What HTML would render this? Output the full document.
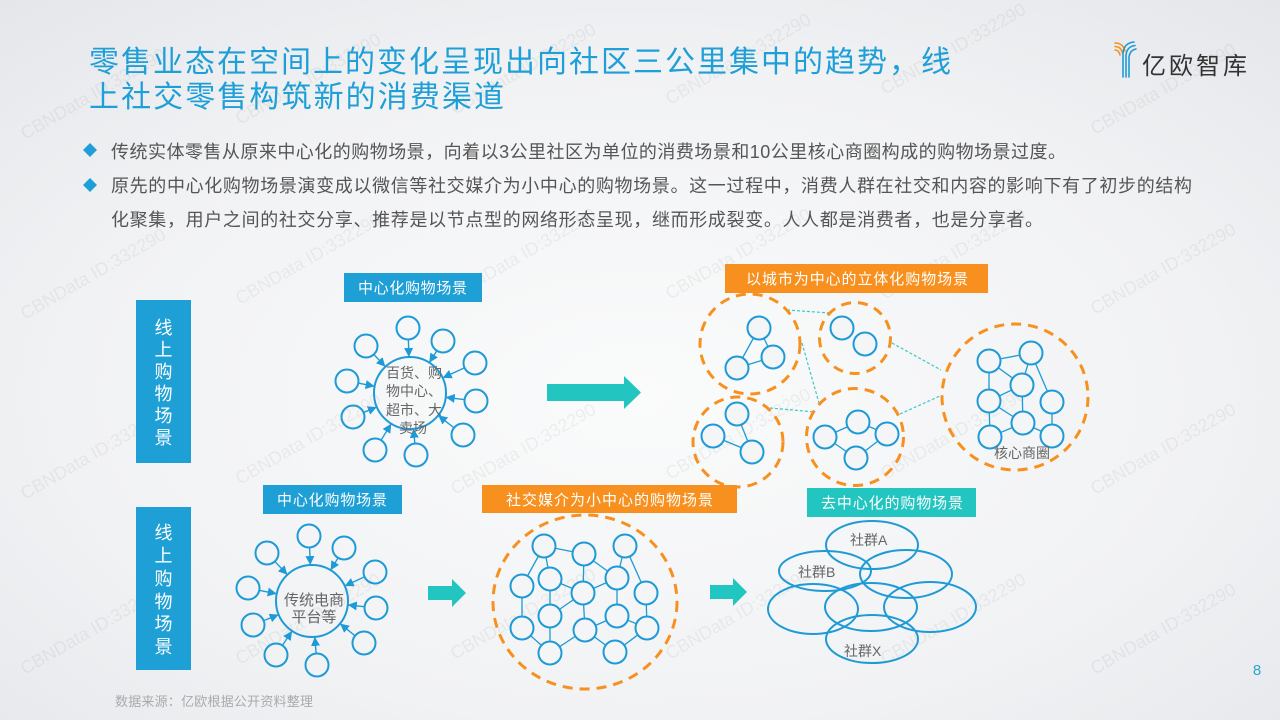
<!DOCTYPE html>
<html><head><meta charset="utf-8"><style>
html,body{margin:0;padding:0;}
body{width:1280px;height:720px;overflow:hidden;background:#f2f3f5;}
svg{display:block;}
text{font-family:"Liberation Sans","Noto Sans CJK SC",sans-serif;}
</style></head><body>
<svg width="1280" height="720" viewBox="0 0 1280 720" xmlns="http://www.w3.org/2000/svg">
<defs>
<radialGradient id="bg" cx="0.5" cy="0.55" r="0.75">
<stop offset="0" stop-color="#fafbfb"/>
<stop offset="0.6" stop-color="#f1f2f4"/>
<stop offset="1" stop-color="#e4e6ea"/>
</radialGradient>
<marker id="ah" viewBox="0 0 10 10" refX="10" refY="5" markerWidth="9" markerHeight="9" markerUnits="userSpaceOnUse" orient="auto">
<path d="M0,0 L10,5 L0,10 z" fill="#1e9ad6"/>
</marker>
</defs>
<rect width="1280" height="720" fill="url(#bg)"/>

<!-- watermarks -->
<g fill="#000" fill-opacity="0.05" font-size="18">
<text transform="translate(25,140) rotate(-30)">CBNData ID:332290</text>
<text transform="translate(240,125) rotate(-30)">CBNData ID:332290</text>
<text transform="translate(455,115) rotate(-30)">CBNData ID:332290</text>
<text transform="translate(670,105) rotate(-30)">CBNData ID:332290</text>
<text transform="translate(885,95) rotate(-30)">CBNData ID:332290</text>
<text transform="translate(1095,135) rotate(-30)">CBNData ID:332290</text>
<text transform="translate(25,320) rotate(-30)">CBNData ID:332290</text>
<text transform="translate(240,305) rotate(-30)">CBNData ID:332290</text>
<text transform="translate(455,300) rotate(-30)">CBNData ID:332290</text>
<text transform="translate(670,300) rotate(-30)">CBNData ID:332290</text>
<text transform="translate(885,300) rotate(-30)">CBNData ID:332290</text>
<text transform="translate(1095,315) rotate(-30)">CBNData ID:332290</text>
<text transform="translate(25,500) rotate(-30)">CBNData ID:332290</text>
<text transform="translate(240,485) rotate(-30)">CBNData ID:332290</text>
<text transform="translate(455,495) rotate(-30)">CBNData ID:332290</text>
<text transform="translate(670,480) rotate(-30)">CBNData ID:332290</text>
<text transform="translate(885,480) rotate(-30)">CBNData ID:332290</text>
<text transform="translate(1095,495) rotate(-30)">CBNData ID:332290</text>
<text transform="translate(25,675) rotate(-30)">CBNData ID:332290</text>
<text transform="translate(240,665) rotate(-30)">CBNData ID:332290</text>
<text transform="translate(455,660) rotate(-30)">CBNData ID:332290</text>
<text transform="translate(670,660) rotate(-30)">CBNData ID:332290</text>
<text transform="translate(885,665) rotate(-30)">CBNData ID:332290</text>
<text transform="translate(1095,675) rotate(-30)">CBNData ID:332290</text>
</g>

<!-- title -->
<g fill="#1e9fd8" font-size="30">
<text x="89" y="72" textLength="862" lengthAdjust="spacing">零售业态在空间上的变化呈现出向社区三公里集中的趋势，线</text>
<text x="89" y="107" textLength="415" lengthAdjust="spacing">上社交零售构筑新的消费渠道</text>
</g>

<!-- logo -->
<g fill="none" stroke-width="1.6" stroke-linecap="round">
<path d="M1115,43 Q1123,43 1125,51" stroke="#f7901e"/>
<path d="M1115,46.5 Q1121,46.5 1122.5,53" stroke="#f7901e"/>
<path d="M1115,50 Q1119,50 1120,55" stroke="#f7901e"/>
<path d="M1134,42 Q1124,43 1123,53 L1123,77" stroke="#1e9ad6"/>
<path d="M1135,45.5 Q1127,46.5 1126,55 L1126,77" stroke="#1e9ad6"/>
<path d="M1136,49 Q1130,50 1129,57 L1129,77" stroke="#1e9ad6"/>
</g>
<text x="1142" y="74" font-size="24" fill="#333" textLength="105" lengthAdjust="spacing">亿欧智库</text>

<!-- bullets -->
<path d="M90,143 L97,150 L90,157 L83,150 z" fill="#1e9fd8"/>
<path d="M90,178 L97,185 L90,192 L83,185 z" fill="#1e9fd8"/>
<g fill="#555" font-size="18">
<text x="111" y="158" textLength="955" lengthAdjust="spacing">传统实体零售从原来中心化的购物场景，向着以3公里社区为单位的消费场景和10公里核心商圈构成的购物场景过度。</text>
<text x="111" y="192" textLength="1081" lengthAdjust="spacing">原先的中心化购物场景演变成以微信等社交媒介为小中心的购物场景。这一过程中，消费人群在社交和内容的影响下有了初步的结构</text>
<text x="111" y="226" textLength="932" lengthAdjust="spacing">化聚集，用户之间的社交分享、推荐是以节点型的网络形态呈现，继而形成裂变。人人都是消费者，也是分享者。</text>
</g>

<!-- vertical labels -->
<rect x="136" y="300" width="55" height="163" fill="#1e9fd5"/>
<rect x="136" y="507" width="55" height="163" fill="#1e9fd5"/>
<g fill="#fff" font-size="18" text-anchor="middle">
<text x="163.5" y="334">线</text><text x="163.5" y="356">上</text><text x="163.5" y="378">购</text><text x="163.5" y="400">物</text><text x="163.5" y="422">场</text><text x="163.5" y="444">景</text>
<text x="163.5" y="539">线</text><text x="163.5" y="562">上</text><text x="163.5" y="585">购</text><text x="163.5" y="608">物</text><text x="163.5" y="630">场</text><text x="163.5" y="653">景</text>
</g>

<!-- label boxes -->
<rect x="344" y="273" width="138" height="29" fill="#1e9fd5"/>
<rect x="263" y="485" width="139" height="29" fill="#1e9fd5"/>
<rect x="725" y="264" width="263" height="29" fill="#f7901e"/>
<rect x="482" y="485" width="255" height="28" fill="#f7901e"/>
<rect x="807" y="488" width="169" height="29" fill="#22c5c0"/>
<g fill="#fff" font-size="15">
<text x="358" y="293" textLength="109" lengthAdjust="spacing">中心化购物场景</text>
<text x="277" y="505" textLength="110" lengthAdjust="spacing">中心化购物场景</text>
<text x="746" y="284" textLength="222" lengthAdjust="spacing">以城市为中心的立体化购物场景</text>
<text x="506" y="505" textLength="207" lengthAdjust="spacing">社交媒介为小中心的购物场景</text>
<text x="821" y="508" textLength="142" lengthAdjust="spacing">去中心化的购物场景</text>
</g>

<!-- top hub -->
<g fill="none" stroke="#1e9ad6" stroke-width="2">
<circle cx="410" cy="393" r="36"/>
<circle cx="408" cy="328" r="11.5"/>
<circle cx="443" cy="341" r="11.5"/>
<circle cx="475" cy="363" r="11.5"/>
<circle cx="476" cy="401" r="11.5"/>
<circle cx="463" cy="435" r="11.5"/>
<circle cx="416" cy="455" r="11.5"/>
<circle cx="375" cy="450" r="11.5"/>
<circle cx="353" cy="417" r="11.5"/>
<circle cx="347" cy="381" r="11.5"/>
<circle cx="366" cy="346" r="11.5"/>
</g>
<g stroke="#1e9ad6" stroke-width="1.4" marker-end="url(#ah)">
<line x1="408.4" y1="340" x2="408.9" y2="357"/>
<line x1="436.6" y1="351.1" x2="429.3" y2="362.6"/>
<line x1="464.1" y1="368" x2="442.7" y2="377.9"/>
<line x1="464.1" y1="399.6" x2="445.7" y2="397.3"/>
<line x1="453.6" y1="427.5" x2="438.2" y2="415.4"/>
<line x1="414.8" y1="443.1" x2="413.5" y2="428.8"/>
<line x1="381.3" y1="439.8" x2="391.2" y2="423.7"/>
<line x1="364.1" y1="412.3" x2="376.8" y2="407"/>
<line x1="358.8" y1="383.2" x2="374.6" y2="386.3"/>
<line x1="374.2" y1="354.8" x2="385.4" y2="366.7"/>
</g>
<g fill="#666" font-size="14" text-anchor="middle">
<text x="414" y="378">百货、购</text>
<text x="414" y="396">物中心、</text>
<text x="414" y="415">超市、大</text>
<text x="413" y="433">卖场</text>
</g>

<!-- bottom hub -->
<g fill="none" stroke="#1e9ad6" stroke-width="2">
<circle cx="312" cy="601" r="36"/>
<circle cx="309" cy="536" r="11.5"/>
<circle cx="344" cy="548" r="11.5"/>
<circle cx="375" cy="572" r="11.5"/>
<circle cx="376" cy="608" r="11.5"/>
<circle cx="364" cy="643" r="11.5"/>
<circle cx="317" cy="665" r="11.5"/>
<circle cx="276" cy="655" r="11.5"/>
<circle cx="253" cy="625" r="11.5"/>
<circle cx="248" cy="588" r="11.5"/>
<circle cx="267" cy="553" r="11.5"/>
</g>
<g stroke="#1e9ad6" stroke-width="1.4" marker-end="url(#ah)">
<line x1="309.6" y1="548" x2="310.3" y2="565"/>
<line x1="337.8" y1="558.3" x2="330.6" y2="570.2"/>
<line x1="364.1" y1="577" x2="344.7" y2="586"/>
<line x1="364.1" y1="606.7" x2="347.8" y2="604.9"/>
<line x1="354.7" y1="635.5" x2="340" y2="623.6"/>
<line x1="316.1" y1="653" x2="314.8" y2="636.9"/>
<line x1="282.7" y1="645" x2="292" y2="631"/>
<line x1="264.1" y1="620.5" x2="278.7" y2="614.6"/>
<line x1="259.8" y1="590.4" x2="276.7" y2="593.8"/>
<line x1="275.2" y1="561.8" x2="287.4" y2="574.8"/>
</g>
<g fill="#666" font-size="15" text-anchor="middle">
<text x="314" y="605">传统电商</text>
<text x="314" y="622">平台等</text>
</g>

<!-- teal arrows -->
<path d="M547,384 L624,384 L624,376 L641,392.5 L624,409 L624,401 L547,401 z" fill="#22c5c0"/>
<path d="M428,586 L452,586 L452,579 L466,593 L452,607 L452,600 L428,600 z" fill="#22c5c0"/>
<path d="M710,585 L733,585 L733,578 L747,592 L733,606 L733,599 L710,599 z" fill="#22c5c0"/>

<!-- city network: dotted teal links -->
<g stroke="#3cc8c8" stroke-width="1.2" stroke-dasharray="3 2" fill="none">
<line x1="787" y1="310" x2="830" y2="313"/>
<line x1="802" y1="343" x2="819" y2="403"/>
<line x1="770" y1="408" x2="815" y2="412"/>
<line x1="892" y1="343" x2="941" y2="370"/>
<line x1="900" y1="414" x2="940" y2="396"/>
</g>
<g stroke="#f7901e" stroke-width="3" stroke-dasharray="10 7" fill="none">
<circle cx="750" cy="344" r="50"/>
<circle cx="855" cy="338" r="35.5"/>
<circle cx="738" cy="442" r="45"/>
<circle cx="855" cy="437" r="48.5"/>
<circle cx="1015" cy="397" r="73"/>
</g>
<g stroke="#1e9ad6" stroke-width="1.3">
<line x1="759" y1="328" x2="737" y2="368"/>
<line x1="759" y1="328" x2="773" y2="357"/>
<line x1="773" y1="357" x2="737" y2="368"/>
<line x1="737" y1="414" x2="752" y2="452"/>
<line x1="713" y1="436" x2="752" y2="452"/>
<line x1="825" y1="437" x2="858" y2="422"/>
<line x1="858" y1="422" x2="887" y2="434"/>
<line x1="825" y1="437" x2="856" y2="458"/>
<line x1="856" y1="458" x2="887" y2="434"/>
<line x1="989" y1="361" x2="1031" y2="353"/>
<line x1="989" y1="361" x2="1022" y2="385"/>
<line x1="989" y1="361" x2="989" y2="401"/>
<line x1="1031" y1="353" x2="1022" y2="385"/>
<line x1="1031" y1="353" x2="1052" y2="402"/>
<line x1="1022" y1="385" x2="989" y2="401"/>
<line x1="1022" y1="385" x2="1023" y2="423"/>
<line x1="989" y1="401" x2="1023" y2="423"/>
<line x1="989" y1="401" x2="990" y2="437"/>
<line x1="1023" y1="423" x2="990" y2="437"/>
<line x1="1023" y1="423" x2="1052" y2="436"/>
<line x1="1052" y1="402" x2="1052" y2="436"/>
</g>
<g fill="#f4f5f7" stroke="#1e9ad6" stroke-width="2">
<circle cx="759" cy="328" r="11.5"/>
<circle cx="773" cy="357" r="11.5"/>
<circle cx="737" cy="368" r="11.5"/>
<circle cx="842" cy="328" r="11.5"/>
<circle cx="865" cy="344" r="11.5"/>
<circle cx="737" cy="414" r="11.5"/>
<circle cx="713" cy="436" r="11.5"/>
<circle cx="752" cy="452" r="11.5"/>
<circle cx="858" cy="422" r="11.5"/>
<circle cx="825" cy="437" r="11.5"/>
<circle cx="887" cy="434" r="11.5"/>
<circle cx="856" cy="458" r="11.5"/>
<circle cx="989" cy="361" r="11.5"/>
<circle cx="1031" cy="353" r="11.5"/>
<circle cx="1022" cy="385" r="11.5"/>
<circle cx="989" cy="401" r="11.5"/>
<circle cx="1052" cy="402" r="11.5"/>
<circle cx="1023" cy="423" r="11.5"/>
<circle cx="990" cy="437" r="11.5"/>
<circle cx="1052" cy="436" r="11.5"/>
</g>
<text x="1022" y="458" font-size="14" fill="#666" text-anchor="middle">核心商圈</text>

<!-- social network -->
<ellipse cx="585" cy="602" rx="92" ry="87" fill="none" stroke="#f7901e" stroke-width="3" stroke-dasharray="10 7"/>
<g stroke="#1e9ad6" stroke-width="1.3">
<line x1="544" y1="546" x2="584" y2="554"/>
<line x1="544" y1="546" x2="522" y2="586"/>
<line x1="544" y1="546" x2="550" y2="579"/>
<line x1="584" y1="554" x2="583" y2="593"/>
<line x1="584" y1="554" x2="617" y2="578"/>
<line x1="625" y1="546" x2="617" y2="578"/>
<line x1="625" y1="546" x2="646" y2="593"/>
<line x1="550" y1="579" x2="583" y2="593"/>
<line x1="550" y1="579" x2="550" y2="616"/>
<line x1="583" y1="593" x2="617" y2="578"/>
<line x1="583" y1="593" x2="550" y2="616"/>
<line x1="583" y1="593" x2="585" y2="630"/>
<line x1="617" y1="578" x2="617" y2="616"/>
<line x1="522" y1="586" x2="522" y2="628"/>
<line x1="522" y1="628" x2="550" y2="653"/>
<line x1="550" y1="616" x2="550" y2="653"/>
<line x1="550" y1="653" x2="585" y2="630"/>
<line x1="585" y1="630" x2="617" y2="616"/>
<line x1="585" y1="630" x2="615" y2="652"/>
<line x1="615" y1="652" x2="647" y2="628"/>
<line x1="617" y1="616" x2="647" y2="628"/>
<line x1="646" y1="593" x2="647" y2="628"/>
</g>
<g fill="#f4f5f7" stroke="#1e9ad6" stroke-width="2">
<circle cx="544" cy="546" r="11.5"/>
<circle cx="584" cy="554" r="11.5"/>
<circle cx="625" cy="546" r="11.5"/>
<circle cx="522" cy="586" r="11.5"/>
<circle cx="550" cy="579" r="11.5"/>
<circle cx="583" cy="593" r="11.5"/>
<circle cx="617" cy="578" r="11.5"/>
<circle cx="646" cy="593" r="11.5"/>
<circle cx="550" cy="616" r="11.5"/>
<circle cx="522" cy="628" r="11.5"/>
<circle cx="585" cy="630" r="11.5"/>
<circle cx="617" cy="616" r="11.5"/>
<circle cx="647" cy="628" r="11.5"/>
<circle cx="550" cy="653" r="11.5"/>
<circle cx="615" cy="652" r="11.5"/>
</g>

<!-- decentralized ellipses -->
<g fill="none" stroke="#1e9ad6" stroke-width="2">
<ellipse cx="872" cy="545" rx="46" ry="24"/>
<ellipse cx="825" cy="571" rx="46" ry="20"/>
<ellipse cx="906" cy="574" rx="46" ry="24"/>
<ellipse cx="813" cy="609" rx="45" ry="25"/>
<ellipse cx="871" cy="607" rx="46" ry="24"/>
<ellipse cx="930" cy="607" rx="46" ry="25"/>
<ellipse cx="872" cy="639" rx="46" ry="24"/>
</g>
<g fill="#666" font-size="14">
<text x="850" y="545">社群A</text>
<text x="798" y="577">社群B</text>
<text x="844" y="656">社群X</text>
</g>

<!-- footer -->
<text x="115" y="706" font-size="13" fill="#aaa" textLength="198" lengthAdjust="spacing">数据来源：亿欧根据公开资料整理</text>
<text x="1257" y="675" font-size="15" fill="#2aa7cf" text-anchor="middle">8</text>
</svg>
</body></html>
